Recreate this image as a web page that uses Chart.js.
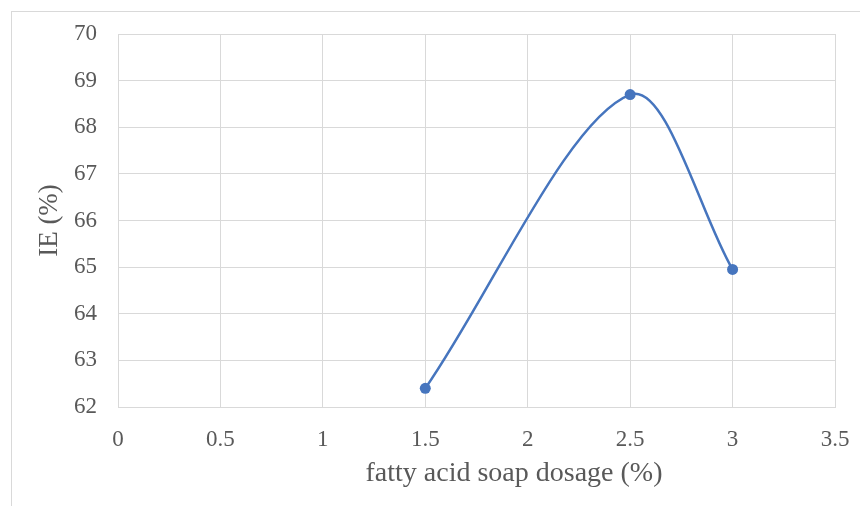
<!DOCTYPE html>
<html>
<head>
<meta charset="utf-8">
<script src="https://cdn.jsdelivr.net/npm/chart.js@4"></script>
<style>
  html, body { margin: 0; padding: 0; background: #fff; }
  .frame {
    position: absolute; left: 11px; top: 11px; width: 849px; height: 495px;
    border-left: 1px solid #d9d9d9; border-top: 1px solid #d9d9d9;
  }
  .wrap { position: absolute; left: 0; top: 0; width: 860px; height: 506px; }
</style>
</head>
<body>
<div class="frame"></div>
<div class="wrap"><canvas id="ieChart" width="860" height="506"></canvas></div>
<script>
// fatty acid soap dosage (%) vs IE (%)
let dosage = [1.5, 2.5, 3];
let ieValues = [62.4, 68.7, 64.95];
let xTicks = [0, 0.5, 1, 1.5, 2, 2.5, 3, 3.5];
let yTicks = [62, 63, 64, 65, 66, 67, 68, 69, 70];
let xTitle = "fatty acid soap dosage (%)";
let yTitle = "IE (%)";

let ieChart = () => {
  const ctx = document.getElementById("ieChart");
  const gray = "#595959";
  const gridGray = "#d9d9d9";
  const serif = "'Liberation Serif', 'Times New Roman', serif";

  // x title sits a bit right of the plot centre in the original, so draw it by hand
  const xTitlePlugin = {
    id: "xTitlePlugin",
    afterDraw(chart) {
      const c = chart.ctx;
      c.save();
      c.font = "28px " + serif;
      c.fillStyle = gray;
      c.textAlign = "center";
      c.textBaseline = "middle";
      c.fillText(xTitle, 514, 474);
      c.restore();
    },
  };

  new Chart(ctx, {
    type: "line",
    data: {
      datasets: [
        {
          data: dosage.map((d, i) => ({ x: d, y: ieValues[i] })),
          borderColor: "#4675be",
          backgroundColor: "#4675be",
          borderWidth: 2.5,
          pointRadius: 5.5,
          pointBorderWidth: 0,
          tension: 0.32,
          fill: false,
        },
      ],
    },
    plugins: [xTitlePlugin],
    options: {
      responsive: false,
      animation: false,
      layout: { padding: { top: 34, right: 25, left: 0, bottom: 0 } },
      plugins: { legend: { display: false }, tooltip: { enabled: false } },
      scales: {
        x: {
          type: "linear",
          min: 0,
          max: 3.5,
          afterBuildTicks: (axis) => {
            axis.ticks = xTicks.map((v) => ({ value: v }));
          },
          afterFit: (axis) => {
            axis.height = 99;
            // keep the plot edge where the reference has it
            axis.paddingRight = 0;
            axis.paddingLeft = 0;
          },
          grid: { color: gridGray, drawTicks: false },
          border: { color: gridGray },
          ticks: {
            color: gray,
            padding: 19,
            maxRotation: 0,
            font: { family: serif, size: 23 },
            callback: (v) => String(v),
          },
          title: { display: false },
        },
        y: {
          min: 62,
          max: 70,
          afterBuildTicks: (axis) => {
            axis.ticks = yTicks.map((v) => ({ value: v }));
          },
          afterFit: (axis) => {
            axis.width = 118;
            axis.paddingTop = 0;
            axis.paddingBottom = 0;
          },
          grid: { color: gridGray, drawTicks: false },
          border: { color: gridGray },
          ticks: {
            color: gray,
            padding: 21,
            font: { family: serif, size: 23 },
          },
          title: {
            display: true,
            text: yTitle,
            color: gray,
            font: { family: serif, size: 27 },
            padding: { top: 34, bottom: 0 },
          },
        },
      },
    },
  });
};

ieChart();
</script>
</body>
</html>
